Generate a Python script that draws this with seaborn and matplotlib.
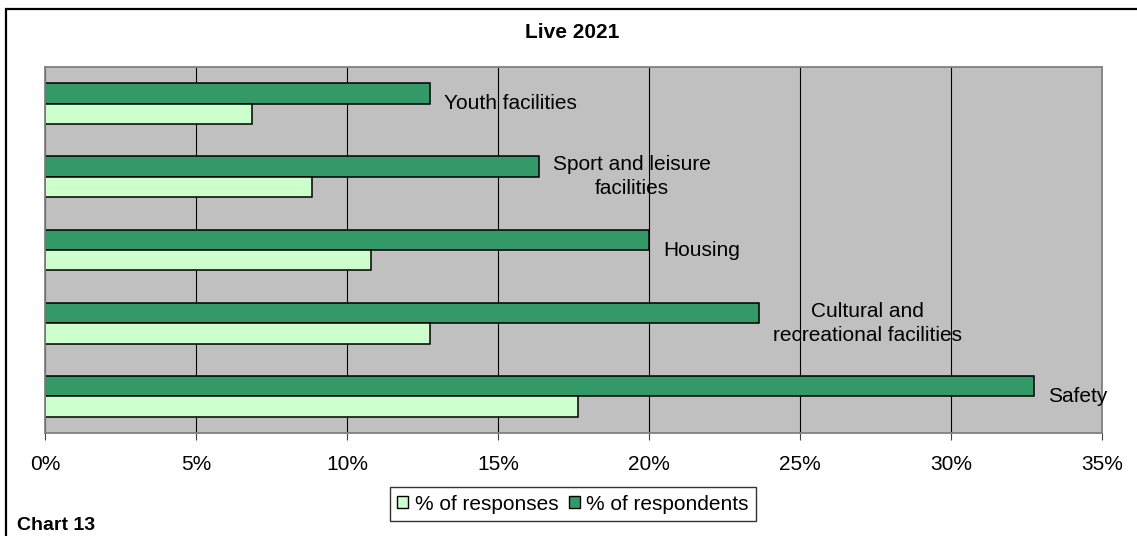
import matplotlib
matplotlib.use("Agg")
import matplotlib.pyplot as plt
from matplotlib.patches import Patch, Rectangle
import pandas as pd
import seaborn as sns

# data (values in %)
categories = ["Youth facilities", "Sport and leisure facilities", "Housing",
              "Cultural and recreational facilities", "Safety"]
label_text = ["Youth facilities", "Sport and leisure\nfacilities", "Housing",
              "Cultural and\nrecreational facilities", "Safety"]
respondents = [12.75, 16.35, 20.0, 23.65, 32.75]
responses = [6.85, 8.85, 10.8, 12.75, 17.65]
xticks = [0, 5, 10, 15, 20, 25, 30, 35]

W, H = 1137, 536
DARK = "#339966"
LIGHT = "#CCFFCC"

sns.set_style("ticks")
plt.rcParams["font.family"] = ["Liberation Sans", "DejaVu Sans"]
plt.rcParams["text.color"] = "black"
plt.rcParams["xtick.color"] = "black"

df = pd.DataFrame({
    "category": categories * 2,
    "value": respondents + responses,
    "series": ["% of respondents"] * len(categories) + ["% of responses"] * len(categories),
})

fig = plt.figure(figsize=(W / 100, H / 100), dpi=100)
ax = fig.add_axes([45 / W, 1 - 433 / H, (1102 - 45) / W, (433 - 67) / H])

sns.barplot(data=df, y="category", x="value", hue="series",
            hue_order=["% of respondents", "% of responses"],
            palette=[DARK, LIGHT], saturation=1, orient="h", width=0.56,
            edgecolor="black", linewidth=1.1, legend=False, ax=ax)

ax.set_facecolor("#C0C0C0")
ax.set_xlim(0, 35)
ax.set_xticks(xticks)
ax.set_xticklabels([f"{t}%" for t in xticks], fontsize=15, color="black")
ax.xaxis.grid(True, color="black", linewidth=0.8)
ax.set_axisbelow(True)
ax.tick_params(axis="x", length=5, width=0.8, color="#404040", pad=11)
ax.tick_params(axis="y", left=False, labelleft=False)
ax.set_xlabel("")
ax.set_ylabel("")
for side in ["top", "right", "bottom", "left"]:
    ax.spines[side].set_visible(True)
    ax.spines[side].set_color("#808080")
    ax.spines[side].set_linewidth(1.3)

# category labels next to the respondent bars
for i, (v, lab) in enumerate(zip(respondents, label_text)):
    ax.annotate(lab, xy=(v, i), xytext=(10, 0), textcoords="offset points",
                ha="left", va="center", multialignment="center",
                fontsize=15, linespacing=1.35, color="black")

fig.text(572 / W, 1 - 32 / H, "Live 2021", ha="center", va="center",
         fontsize=15, fontweight="bold", color="black")
fig.text(17 / W, 1 - 526 / H, "Chart 13", ha="left", va="center",
         fontsize=14, fontweight="bold", color="black")

handles = [Patch(facecolor=LIGHT, edgecolor="black", linewidth=1),
           Patch(facecolor=DARK, edgecolor="black", linewidth=1)]
leg = fig.legend(handles, ["% of responses", "% of respondents"], ncol=2,
                 loc="center", bbox_to_anchor=(573 / W, 1 - 504 / H),
                 fontsize=15, frameon=True, fancybox=False, edgecolor="black",
                 handlelength=0.55, handleheight=0.55, handletextpad=0.3,
                 columnspacing=0.5, borderpad=0.35, borderaxespad=0)
leg.get_frame().set_linewidth(1.0)
for t in leg.get_texts():
    t.set_color("black")

fig.add_artist(Rectangle((6 / W, -0.1), 1.2, 1.1 - 9 / H, transform=fig.transFigure,
                         fill=False, edgecolor="black", linewidth=1.6))

fig.savefig("out.png", dpi=100)
